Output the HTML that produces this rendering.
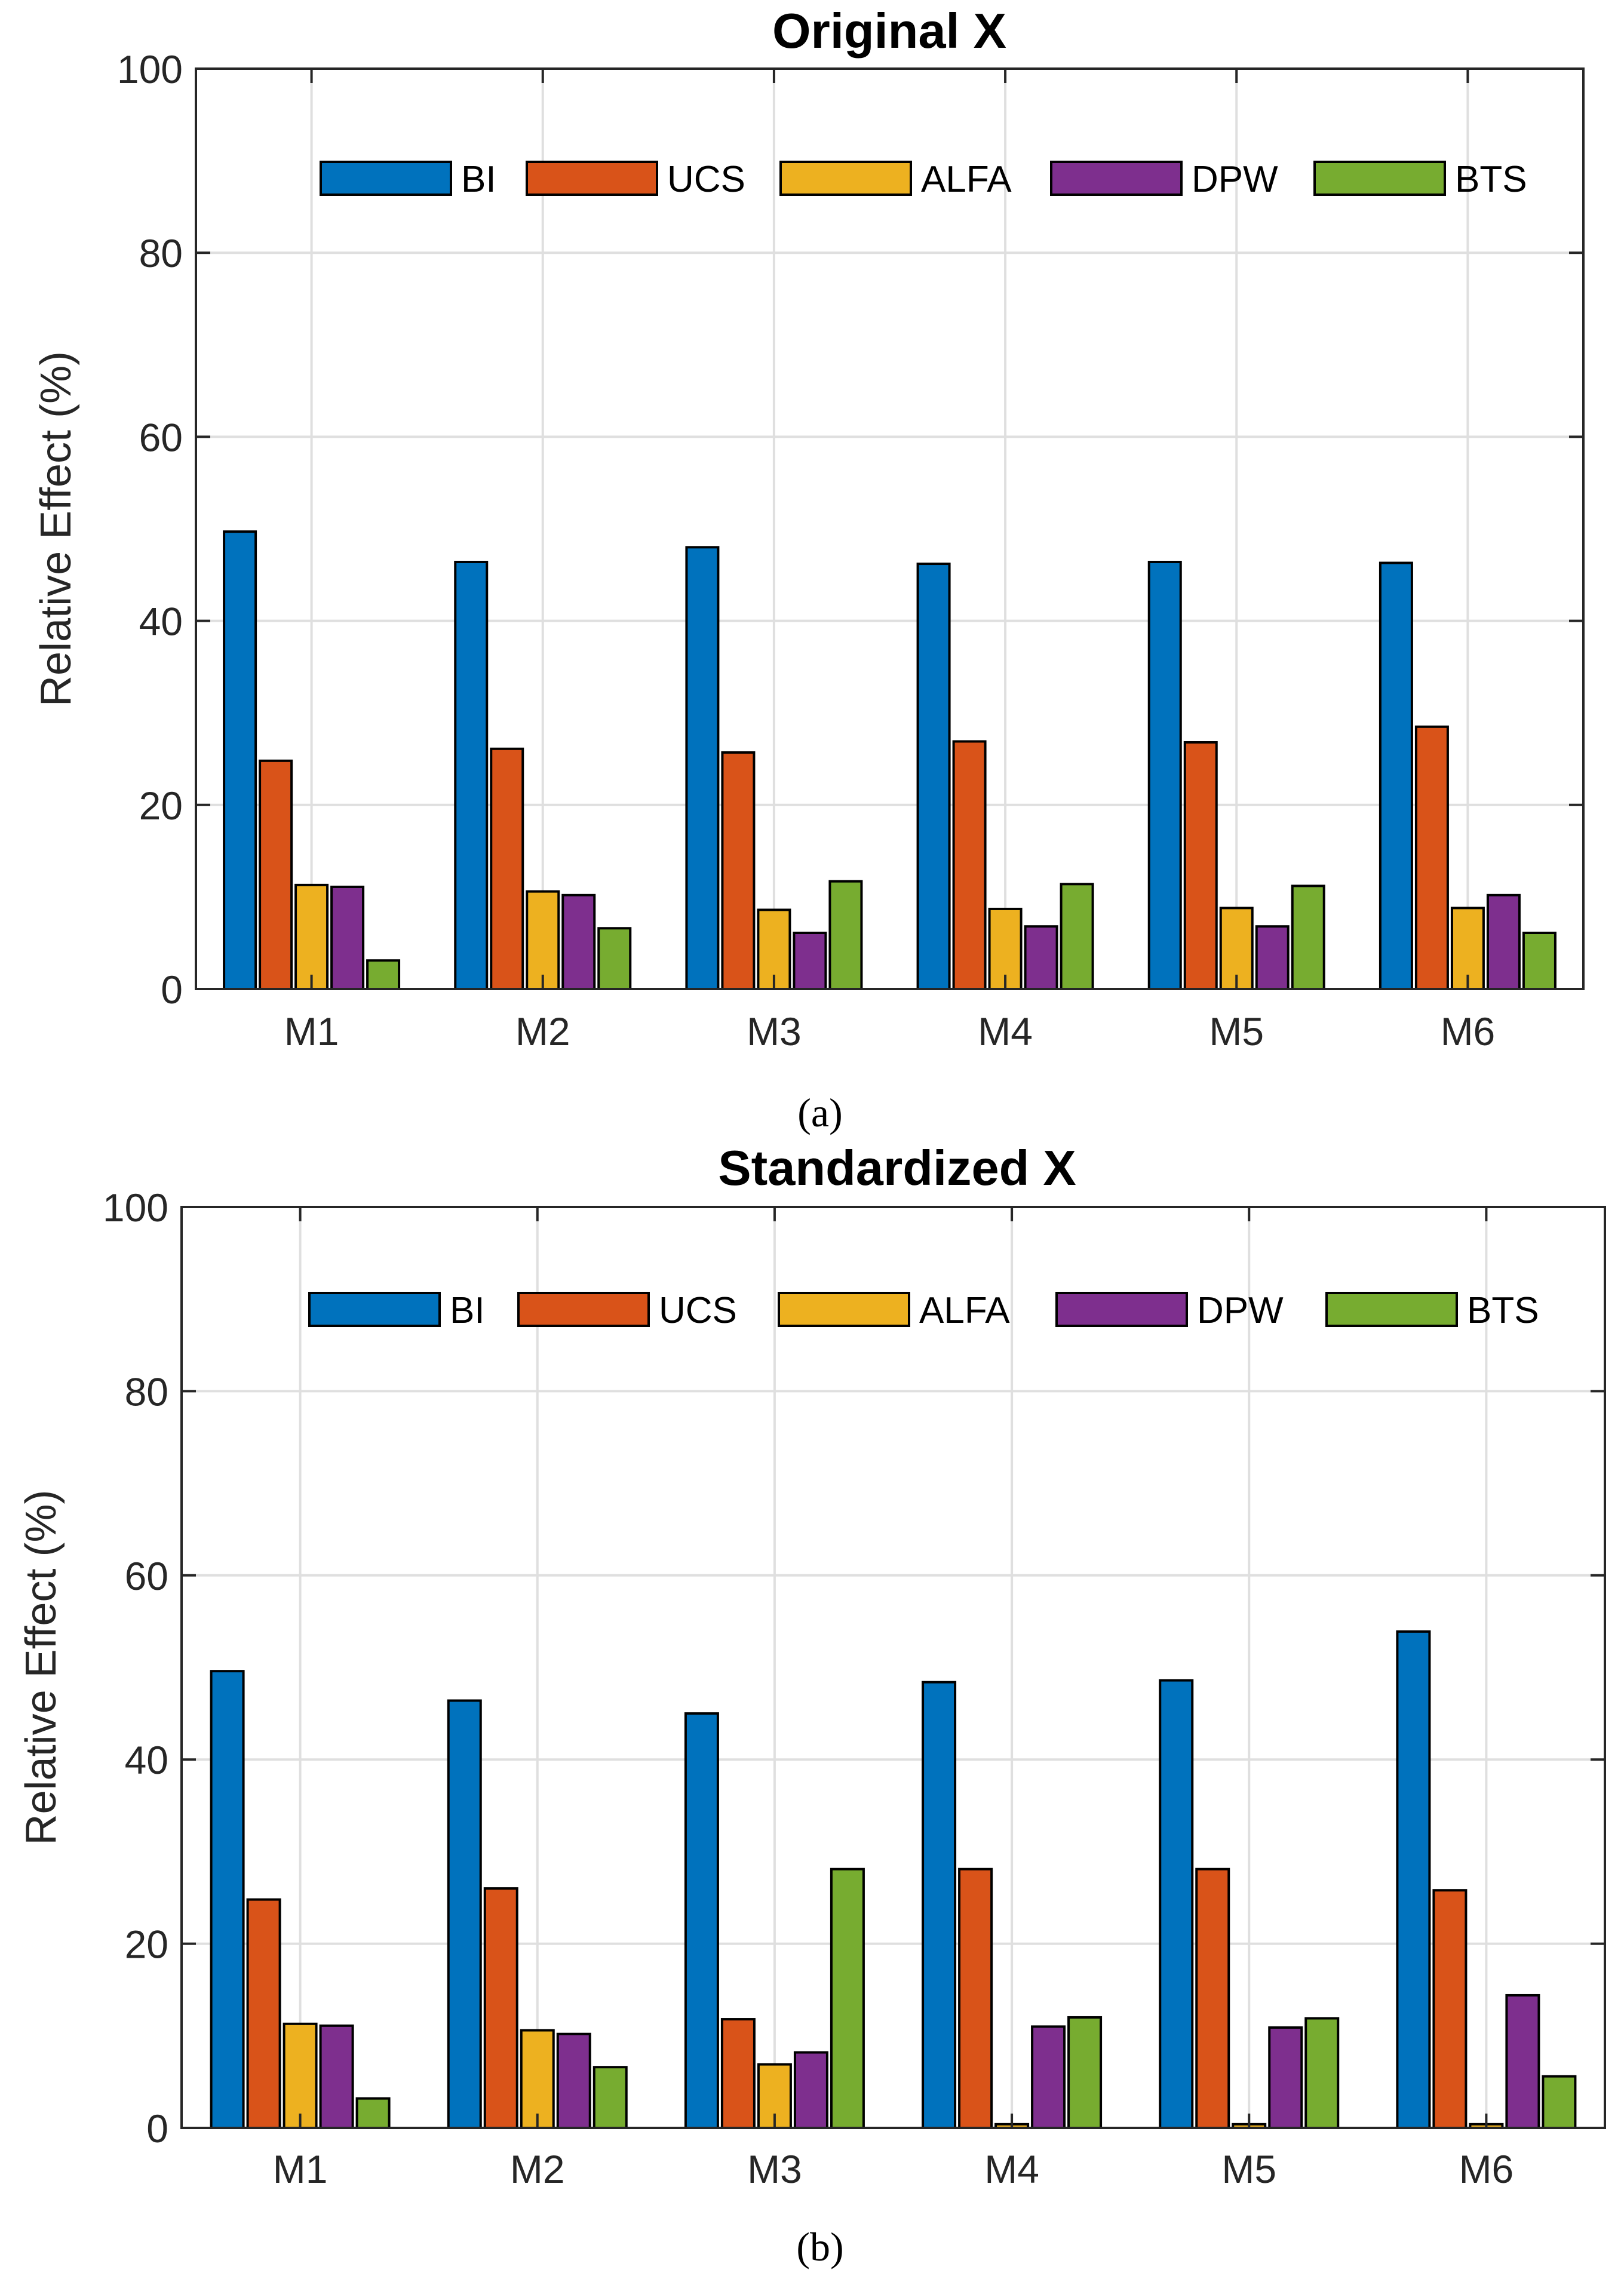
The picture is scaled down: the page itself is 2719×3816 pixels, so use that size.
<!DOCTYPE html>
<html><head><meta charset="utf-8">
<style>
html,body{margin:0;padding:0;background:#fff;}
svg{display:block;}
text{font-family:"Liberation Sans",Arial,sans-serif;}
</style></head>
<body>
<svg id="fig" xmlns="http://www.w3.org/2000/svg" width="2719" height="3816" viewBox="0 0 2719 3816"></svg>
<script>
const categories = ["M1","M2","M3","M4","M5","M6"];
const seriesNames = ["BI","UCS","ALFA","DPW","BTS"];
const seriesColors = ["#0072bd","#d95319","#edb120","#7e2f8e","#77ac30"];
const yTicks = [0,20,40,60,80,100];

const origBI   = [49.7,46.4,48.0,46.2,46.4,46.3];
const origUCS  = [24.8,26.1,25.7,26.9,26.8,28.5];
const origALFA = [11.3,10.6,8.6,8.7,8.8,8.8];
const origDPW  = [11.1,10.2,6.1,6.8,6.8,10.2];
const origBTS  = [3.1,6.6,11.7,11.4,11.2,6.1];

const stdBI   = [49.6,46.4,45.0,48.4,48.6,53.9];
const stdUCS  = [24.8,26.0,11.8,28.1,28.1,25.8];
const stdALFA = [11.3,10.6,6.9,0.4,0.4,0.4];
const stdDPW  = [11.1,10.2,8.2,11.0,10.9,14.4];
const stdBTS  = [3.2,6.6,28.1,12.0,11.9,5.6];

const NS = "http://www.w3.org/2000/svg";
const svg = document.getElementById('fig');
function mk(tag, attrs, parent, txt){
  const e = document.createElementNS(NS, tag);
  for (const k in attrs) e.setAttribute(k, attrs[k]);
  if (txt !== undefined) e.textContent = txt;
  (parent||svg).appendChild(e);
  return e;
}

function drawChart(cfg){
  const g = mk('g', {});
  
  
  const L=cfg.left, R=cfg.right, T=cfg.top, B=cfg.bottom;
  const xs = v => L + (v - 0.5) * (R - L) / 6;
  const ys = v => B - v * (B - T) / 100;
  yTicks.forEach(t=>{
    if (t===0||t===100) return;
    const l = mk('line',{x1:L,x2:R,y1:ys(t),y2:ys(t),stroke:'#dfdfdf','stroke-width':4},g);
    
    
  });
  categories.forEach((c,i)=>{
    const l = mk('line',{x1:xs(i+1),x2:xs(i+1),y1:T,y2:B,stroke:'#dfdfdf','stroke-width':4},g);
    
    
  });
  const bw = cfg.barStep - 7;
  cfg.series.forEach((arr,si)=>{
    arr.forEach((v,ci)=>{
      const cx = xs(ci+1) + (si-2)*cfg.barStep;
      const r = mk('rect',{x:cx-bw/2,y:ys(v),width:bw,height:B-ys(v),fill:seriesColors[si],stroke:'#000','stroke-width':4},g);
      
      
    });
  });
  yTicks.forEach(t=>{
    mk('line',{x1:L,x2:L+24,y1:ys(t),y2:ys(t),stroke:'#262626','stroke-width':4},g);
    mk('line',{x1:R,x2:R-24,y1:ys(t),y2:ys(t),stroke:'#262626','stroke-width':4},g);
    const tl = mk('text',{x:L-22,y:ys(t)+24,'text-anchor':'end','font-size':66,fill:'#262626'},g,String(t));
    
    
  });
  categories.forEach((c,i)=>{
    mk('line',{x1:xs(i+1),x2:xs(i+1),y1:B,y2:B-24,stroke:'#262626','stroke-width':4},g);
    mk('line',{x1:xs(i+1),x2:xs(i+1),y1:T,y2:T+24,stroke:'#262626','stroke-width':4},g);
    const tl = mk('text',{x:xs(i+1),y:cfg.xLabelY,'text-anchor':'middle','font-size':66,fill:'#262626'},g,c);
    
    
  });
  const f = mk('rect',{x:L,y:T,width:R-L,height:B-T,fill:'none',stroke:'#262626','stroke-width':4},g);
  
  
  const lg = mk('g',{},g);
  
  
  cfg.legendX.forEach((lx,si)=>{
    const e = mk('g',{},lg);
    
    
    mk('rect',{x:lx,y:cfg.legendY,width:218,height:55,fill:seriesColors[si],stroke:'#000','stroke-width':4},e);
    mk('text',{x:lx+235,y:cfg.legendY+50,'font-size':62,fill:'#000'},e,seriesNames[si]);
  });
  const tt = mk('text',{x:cfg.titleX,y:cfg.titleY,'text-anchor':'middle','font-size':83,'font-weight':'bold',fill:'#000'},g,cfg.title);
  
  
  const yl = mk('text',{x:0,y:0,'text-anchor':'middle','font-size':72,fill:'#262626',transform:'translate('+cfg.yLabelX+','+((T+B)/2)+') rotate(-90)'},g,'Relative Effect (%)');
  
  
  const cp = mk('text',{x:cfg.capX,y:cfg.capY,'text-anchor':'middle','font-size':68,fill:'#000',style:'font-family:"Liberation Serif",serif'},g,cfg.caption);
  
  
}

drawChart({name:'chart-original-x',left:328,right:2651,top:115,bottom:1656,barStep:60,
  series:[origBI,origUCS,origALFA,origDPW,origBTS],
  legendX:[537,882,1307,1760,2201],legendY:271,
  title:'Original X',titleX:1489,titleY:80,xLabelY:1750,yLabelX:118,
  caption:'(a)',capX:1373,capY:1886});
drawChart({name:'chart-standardized-x',left:304,right:2687,top:2021,bottom:3563,barStep:61,
  series:[stdBI,stdUCS,stdALFA,stdDPW,stdBTS],
  legendX:[518,868,1304,1769,2221],legendY:2165,
  title:'Standardized X',titleX:1502,titleY:1984,xLabelY:3655,yLabelX:93,
  caption:'(b)',capX:1373,capY:3785});
</script>
</body></html>
